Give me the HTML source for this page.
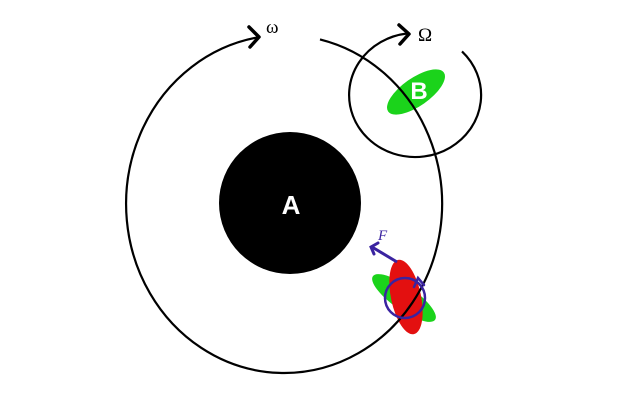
<!DOCTYPE html>
<html><head><style>html,body{margin:0;padding:0;background:#fff}svg{display:block}</style></head>
<body>
<svg width="640" height="400" viewBox="0 0 640 400" xmlns="http://www.w3.org/2000/svg">
<rect width="640" height="400" fill="#fff"/>
<ellipse cx="416" cy="92" rx="34" ry="14" fill="#1bd31b" transform="rotate(-35 416 92)"/>
<ellipse cx="404" cy="298" rx="38" ry="12" fill="#1bd31b" transform="rotate(35 404 298)"/>
<ellipse cx="406" cy="297" rx="15" ry="38" fill="#e31010" transform="rotate(-12 406 297)"/>
<path d="M320,39.4 A158,169 0 1 1 258,37.3" fill="none" stroke="#000" stroke-width="2.2"/>
<polyline points="249,27 259,37 250,47" fill="none" stroke="#000" stroke-width="3.5" stroke-linecap="round" stroke-linejoin="round"/>
<text x="266" y="33" font-family="Liberation Serif, serif" font-size="19">ω</text>
<circle cx="290" cy="203" r="71" fill="#000"/>
<text x="291" y="214" font-family="Liberation Sans, sans-serif" font-weight="bold" font-size="26" fill="#fff" text-anchor="middle">A</text>
<path d="M462,51.4 A66,62 0 1 1 407,33.5" fill="none" stroke="#000" stroke-width="2.2"/>
<polyline points="399,25 409,34 400,44" fill="none" stroke="#000" stroke-width="3.5" stroke-linecap="round" stroke-linejoin="round"/>
<text x="418" y="41" font-family="Liberation Serif, serif" font-size="19">Ω</text>
<text x="419" y="99" font-family="Liberation Sans, sans-serif" font-weight="bold" font-size="24" fill="#fff" text-anchor="middle">B</text>
<circle cx="405" cy="298" r="20" fill="none" stroke="#3a23a0" stroke-width="2.5"/>
<line x1="397" y1="262" x2="372" y2="247" stroke="#3a23a0" stroke-width="3"/>
<polyline points="378,243 371,247 374,254" fill="none" stroke="#3a23a0" stroke-width="3" stroke-linecap="round"/>
<polyline points="414,287 418,278 424,285" fill="none" stroke="#3a23a0" stroke-width="2.5" stroke-linecap="round"/>
<text x="378" y="240" font-family="Liberation Serif, serif" font-style="italic" font-size="15" fill="#3a23a0">F</text>
</svg>
</body></html>
